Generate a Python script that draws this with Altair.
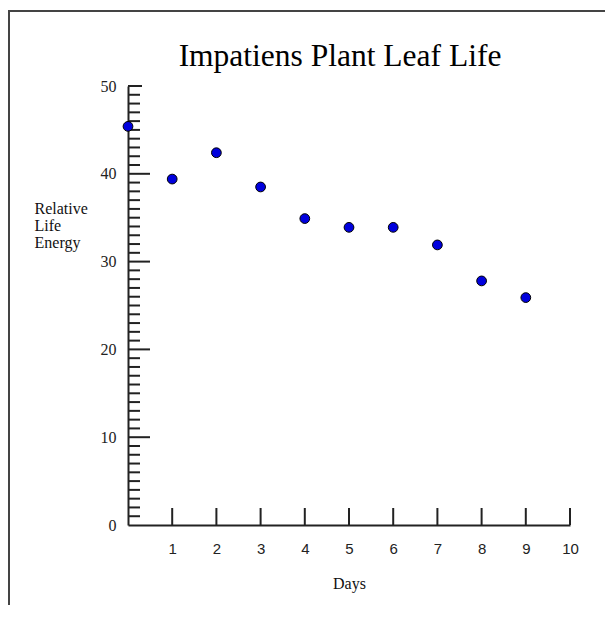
import altair as alt
import pandas as pd

# ---- data ----
title_text = ["Impatiens Plant Leaf Life"]
days = [0, 1, 2, 3, 4, 5, 6, 7, 8, 9]
energy = [45.4, 39.4, 42.4, 38.5, 34.9, 33.9, 33.9, 31.9, 27.8, 25.9]
x_tick_values = [1, 2, 3, 4, 5, 6, 7, 8, 9, 10]
y_label_values = [0, 10, 20, 30, 40, 50]
y_major_ticks = [10, 20, 30, 40]
y_top_tick = [50]
y_minor_ticks = [v for v in range(1, 50) if v % 10 != 0]

W, H = 442, 439
PAD = {"left": 120, "top": 78, "right": 35, "bottom": 80}

SERIF = "Liberation Serif"
SANS = "Liberation Sans"

points_df = pd.DataFrame({"Days": days, "Energy": energy})
xt_df = pd.DataFrame({"Days": x_tick_values})
ymaj_df = pd.DataFrame({"Energy": y_major_ticks})
ytop_df = pd.DataFrame({"Energy": y_top_tick})
ymin_df = pd.DataFrame({"Energy": y_minor_ticks})
one_df = pd.DataFrame({"a": [0]})
title_df = pd.DataFrame({"t": title_text})

xs = alt.Scale(domain=[0, 10], nice=False, zero=False)
ys = alt.Scale(domain=[0, 50], nice=False, zero=False)

xaxis = alt.Axis(
    values=x_tick_values, ticks=False, grid=False,
    domainColor="#222", domainWidth=2,
    labelFont=SANS, labelFontSize=15, labelColor="#222",
    labelBaseline="alphabetic", labelPadding=28, labelFlush=False,
    title="Days", titleFont=SERIF, titleFontSize=16, titleFontWeight="normal",
    titleColor="#111", titleBaseline="alphabetic", titleY=63,
)
yaxis = alt.Axis(
    values=y_label_values, ticks=False, grid=False,
    domainColor="#222", domainWidth=2,
    labelFont=SERIF, labelFontSize=16, labelColor="#222",
    labelPadding=12, labelBaseline="middle", labelFlush=False,
    title=["Relative", "Life", "Energy"], titleFont=SERIF, titleFontSize=16,
    titleFontWeight="normal", titleColor="#111", titleAngle=0,
    titleAlign="left", titleBaseline="alphabetic", titleX=-94, titleY=127,
    titleLineHeight=17,
)

x_enc = alt.X("Days:Q", scale=xs, axis=xaxis)
y_enc = alt.Y("Energy:Q", scale=ys, axis=yaxis)

tick_col = "#222"

points = alt.Chart(points_df).mark_point(
    filled=True, fill="#0000dd", stroke="#000", strokeWidth=1, size=95, opacity=1
).encode(x=x_enc, y=y_enc)

x_ticks = alt.Chart(xt_df).mark_rule(color=tick_col, strokeWidth=2).encode(
    x=x_enc, y=alt.value(H), y2=alt.value(H - 17)
)
y_major = alt.Chart(ymaj_df).mark_rule(color=tick_col, strokeWidth=2).encode(
    y=y_enc, x=alt.value(0), x2=alt.value(22)
)
y_top = alt.Chart(ytop_df).mark_rule(color=tick_col, strokeWidth=2).encode(
    y=y_enc, x=alt.value(0), x2=alt.value(14)
)
y_minor = alt.Chart(ymin_df).mark_rule(color=tick_col, strokeWidth=2).encode(
    y=y_enc, x=alt.value(0), x2=alt.value(12)
)

border_top = alt.Chart(one_df).mark_rule(color="#444", strokeWidth=2).encode(
    x=alt.value(-120), x2=alt.value(W + PAD["right"]), y=alt.value(-75)
)
border_left = alt.Chart(one_df).mark_rule(color="#444", strokeWidth=2).encode(
    x=alt.value(-119), y=alt.value(-75), y2=alt.value(H + PAD["bottom"])
)

title = alt.Chart(title_df).mark_text(
    font=SERIF, fontSize=31.5, color="#000", align="center", baseline="alphabetic"
).encode(text="t:N", x=alt.value(212), y=alt.value(-20))

chart = alt.layer(
    border_top, border_left, y_minor, y_top, y_major, x_ticks, points, title
).properties(
    width=W, height=H,
    autosize=alt.AutoSizeParams(type="none"),
    padding=PAD,
    background="white",
).configure_view(stroke=None)

chart.save("out.html", embed_options={"renderer": "svg", "actions": False})
